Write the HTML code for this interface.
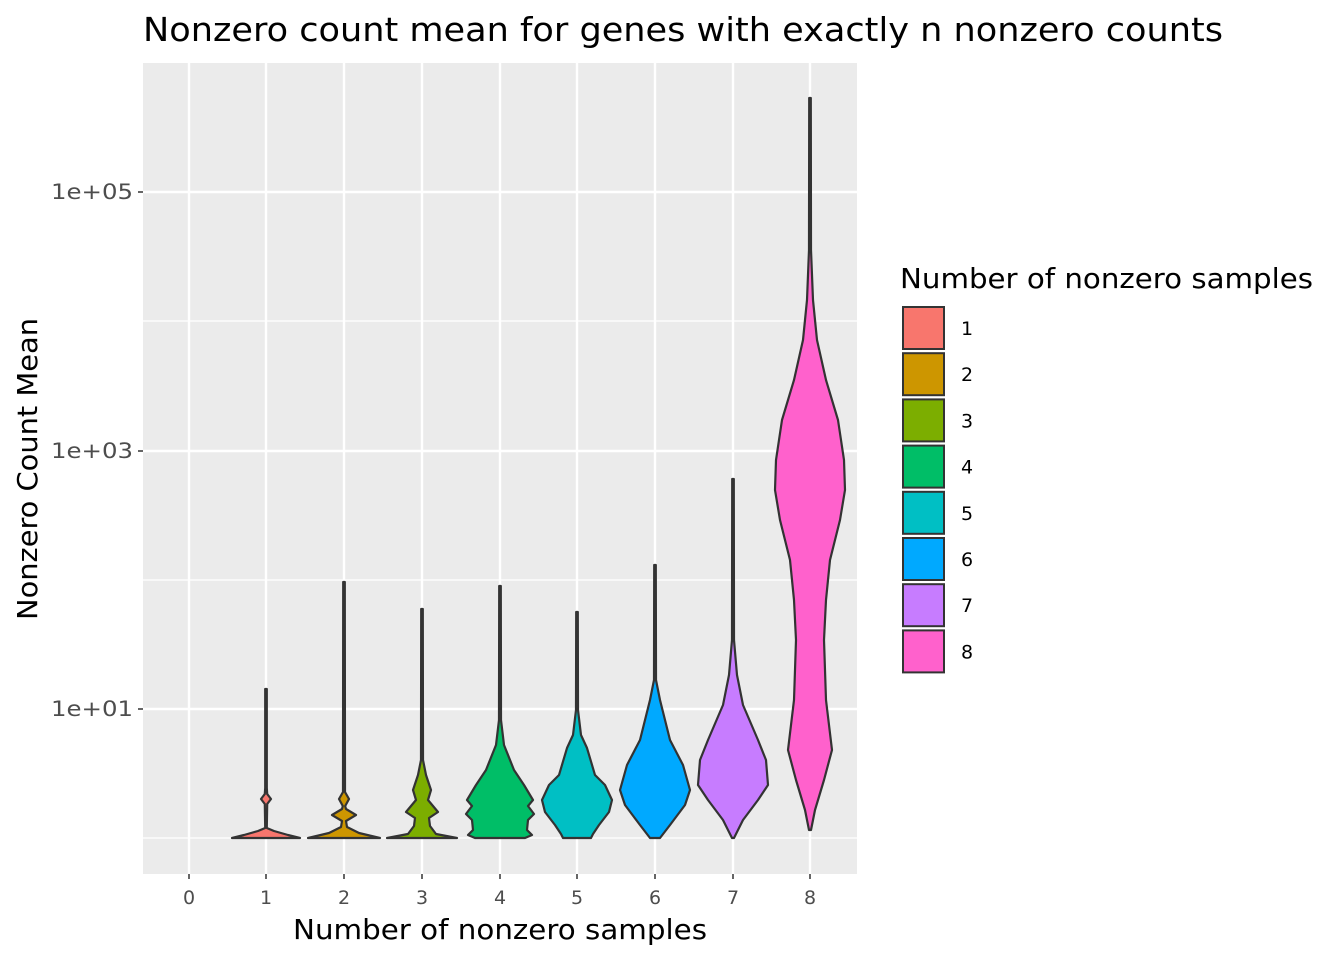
<!DOCTYPE html><html><head><style>body{margin:0;background:#fff}svg{display:block}text{font-family:"DejaVu Sans","Liberation Sans",sans-serif}</style></head><body>
<svg id="s" width="1344" height="960" xmlns="http://www.w3.org/2000/svg">
<rect x="143" y="63" width="714" height="811" fill="#ebebeb"/>
<g stroke="#fff" stroke-width="1.2"><line x1="143" x2="857" y1="321" y2="321"/><line x1="143" x2="857" y1="580" y2="580"/><line x1="143" x2="857" y1="838" y2="838"/></g>
<g stroke="#fff" stroke-width="2.4"><line x1="143" x2="857" y1="192" y2="192"/><line x1="143" x2="857" y1="451" y2="451"/><line x1="143" x2="857" y1="709" y2="709"/>
<line x1="189" x2="189" y1="63" y2="874"/><line x1="266" x2="266" y1="63" y2="874"/><line x1="344" x2="344" y1="63" y2="874"/><line x1="422" x2="422" y1="63" y2="874"/><line x1="500" x2="500" y1="63" y2="874"/><line x1="577" x2="577" y1="63" y2="874"/><line x1="655" x2="655" y1="63" y2="874"/><line x1="733" x2="733" y1="63" y2="874"/><line x1="810" x2="810" y1="63" y2="874"/></g>
<g id="v"></g>
<g stroke="#333" stroke-width="1.5"><line x1="138" x2="143" y1="192" y2="192"/><line x1="138" x2="143" y1="451" y2="451"/><line x1="138" x2="143" y1="709" y2="709"/></g>
<g font-size="21" fill="#4d4d4d" text-anchor="end"><text x="133" y="199" textLength="82" lengthAdjust="spacingAndGlyphs">1e+05</text><text x="133" y="458" textLength="82" lengthAdjust="spacingAndGlyphs">1e+03</text><text x="133" y="716" textLength="82" lengthAdjust="spacingAndGlyphs">1e+01</text></g>
<g font-size="19" fill="#4d4d4d" text-anchor="middle"><text x="189" y="904">0</text><text x="266" y="904">1</text><text x="344" y="904">2</text><text x="422" y="904">3</text><text x="500" y="904">4</text><text x="577" y="904">5</text><text x="655" y="904">6</text><text x="733" y="904">7</text><text x="810" y="904">8</text></g>
<g stroke="#333" stroke-width="1.5"><line y1="874" y2="879" x1="189" x2="189"/><line y1="874" y2="879" x1="266" x2="266"/><line y1="874" y2="879" x1="344" x2="344"/><line y1="874" y2="879" x1="422" x2="422"/><line y1="874" y2="879" x1="500" x2="500"/><line y1="874" y2="879" x1="577" x2="577"/><line y1="874" y2="879" x1="655" x2="655"/><line y1="874" y2="879" x1="733" x2="733"/><line y1="874" y2="879" x1="810" x2="810"/></g>
<text x="500" y="939" font-size="28" text-anchor="middle" textLength="414" lengthAdjust="spacingAndGlyphs">Number of nonzero samples</text>
<text transform="translate(37,469) rotate(-90)" font-size="28" text-anchor="middle" textLength="302" lengthAdjust="spacingAndGlyphs">Nonzero Count Mean</text>
<text x="143" y="41" font-size="33" textLength="1080" lengthAdjust="spacingAndGlyphs">Nonzero count mean for genes with exactly n nonzero counts</text>
<text x="900" y="288" font-size="28" textLength="413" lengthAdjust="spacingAndGlyphs">Number of nonzero samples</text>
<g id="lg"></g>
</svg>
<script>
var cols=["#F8766D","#CD9600","#7CAE00","#00BE67","#00BFC4","#00A9FF","#C77CFF","#FF61CC"];
var cx=[266,344,422,500,577,655,733,810];
var D=[
[[689,0.8],[788,0.8],[794,1.2],[799,5],[804,1.2],[828,0.8],[831,8],[835,22],[838,34]],
[[582,0.8],[792,1],[799,5],[806,1.2],[809,2],[815,12],[821,2],[827,3],[833,15],[838,36]],
[[609,0.8],[760,1],[775,4],[790,9],[800,6],[812,16],[818,7],[826,8],[834,14],[838,35]],
[[586,0.8],[720,1],[745,4],[770,14],[785,24],[800,33],[806,28],[814,34],[820,28],[830,27],[835,32],[838,25]],
[[612,0.8],[710,1],[735,4],[748,10],[775,18],[785,28],[800,35],[812,32],[825,22],[834,16],[838,14]],
[[565,0.8],[680,1],[700,5],[740,15],[765,28],[790,35],[805,30],[825,15],[838,5]],
[[479,0.8],[640,1],[675,4],[705,10],[740,25],[760,33],[785,35],[800,25],[820,10],[838,1]],
[[98,0.8],[250,1],[300,3],[340,7],[380,16],[420,28],[460,34],[490,35],[520,30],[560,20],[600,16],[640,14],[700,16],[750,22],[780,14],[810,5],[830,1]]];
var h='';
D.forEach(function(d,i){var c=cx[i],r=[],l=[];d.forEach(function(p){r.push((c+p[1])+','+p[0]);});
for(var k=d.length-1;k>=0;k--)l.push((c-d[k][1])+','+d[k][0]);
h+='<path d="M'+r.join(' L')+' L'+l.join(' L')+' Z" fill="'+cols[i]+'" stroke="#333" stroke-width="2.2" stroke-linejoin="round"/>';});
document.getElementById('v').innerHTML=h;
var g='';for(var i=0;i<8;i++){var y=307+i*46.2;g+='<rect x="903" y="'+y+'" width="41" height="42" fill="'+cols[i]+'" stroke="#333" stroke-width="2"/><text x="961" y="'+(y+28)+'" font-size="19">'+(i+1)+'</text>';}
document.getElementById('lg').innerHTML=g;
</script>
</body></html>
